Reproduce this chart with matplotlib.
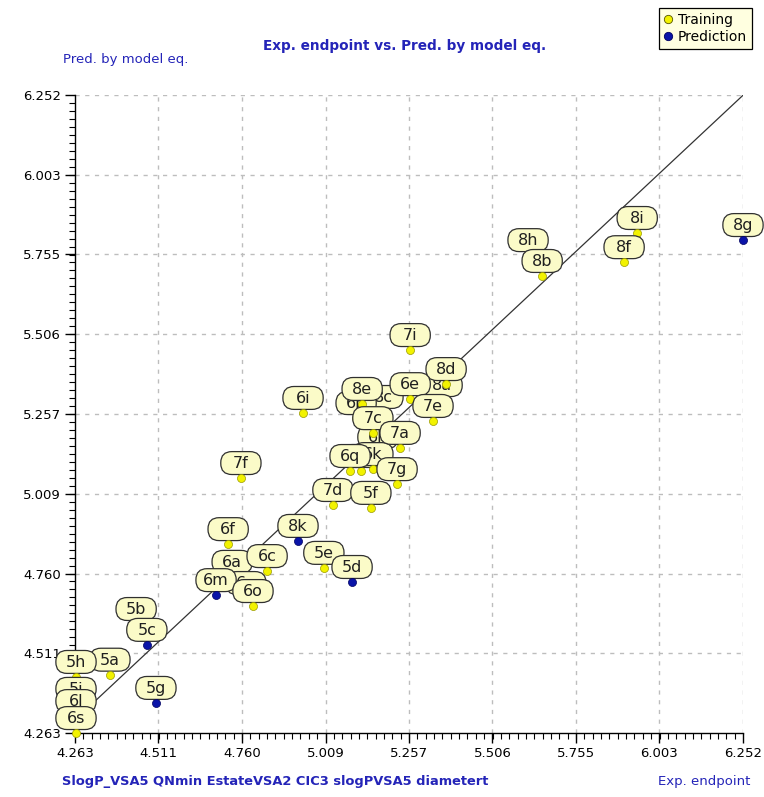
import numpy as np
import matplotlib.pyplot as plt
from matplotlib.offsetbox import DrawingArea, AnnotationBbox
from matplotlib.patches import FancyBboxPatch
from matplotlib.text import Text
from matplotlib.lines import Line2D

# compounds in drawing order (later ones sit on top)
labels = ['8c', '6p', '6h', '6r', '6k', '8e', '7c', '7a', '6q', '7g', '8a', '8d', '6e', '7e',
          '7d', '5f', '7i', '6i', '7f', '6f', '8k', '6a', '6n', '6m', '6o', '6c', '5e', '5d',
          '5b', '5c', '5a', '5h', '5i', '6l', '6s', '5g', '8h', '8b', '8i', '8f', '8g']
exp_vals = [5.180, 5.100, 5.165, 5.115, 5.150, 5.118, 5.150, 5.231, 5.082, 5.222, 5.356, 5.368, 5.261, 5.329,
            5.031, 5.144, 5.261, 4.942, 4.757, 4.719, 4.927, 4.731, 4.772, 4.683, 4.793, 4.835, 5.004, 5.088,
            4.445, 4.477, 4.367, 4.266, 4.266, 4.266, 4.266, 4.504, 5.612, 5.654, 5.937, 5.898, 6.252]
pred_vals = [5.264, 5.245, 5.139, 5.080, 5.086, 5.289, 5.198, 5.152, 5.080, 5.039, 5.301, 5.351, 5.304, 5.236,
             4.974, 4.965, 5.457, 5.261, 5.058, 4.852, 4.862, 4.750, 4.684, 4.693, 4.659, 4.768, 4.778, 4.734,
             4.603, 4.538, 4.445, 4.438, 4.354, 4.316, 4.263, 4.357, 5.753, 5.688, 5.822, 5.731, 5.800]
sets = ['T', 'T', 'T', 'T', 'T', 'T', 'T', 'T', 'T', 'T', 'T', 'T', 'T', 'T',
        'T', 'T', 'T', 'T', 'T', 'T', 'P', 'T', 'T', 'P', 'T', 'T', 'T', 'P',
        'T', 'P', 'T', 'T', 'T', 'T', 'T', 'P', 'T', 'T', 'T', 'T', 'P']

tick_labels = ['4.263', '4.511', '4.760', '5.009', '5.257', '5.506', '5.755', '6.003', '6.252']

# fitted line  pred = fit_a + fit_b * exp
fit_a = 0.1305
fit_b = 0.979

blue_txt = '#2424b8'
yellow = '#f2f200'
blue = '#0a14a8'
bubble_fc = '#fbfbc8'

fig = plt.figure(figsize=(7.64, 7.97), dpi=100)
ax = fig.add_axes([75 / 764, 64 / 797, 668 / 764, 638 / 797])

ticks = [float(t) for t in tick_labels]
lo, hi = ticks[0], ticks[-1]
ax.set_xlim(lo, hi)
ax.set_ylim(lo, hi)
ax.set_xticks(ticks)
ax.set_xticklabels(tick_labels)
ax.set_yticks(ticks)
ax.set_yticklabels(tick_labels)
minor = np.linspace(lo, hi, 81)
ax.set_xticks(minor, minor=True)
ax.set_yticks(minor, minor=True)
ax.tick_params(which='major', direction='out', length=7, width=1, labelsize=9.5, pad=3)
ax.tick_params(which='minor', direction='out', length=4, width=0.8)
for s in ['top', 'right']:
    ax.spines[s].set_visible(False)
for s in ['left', 'bottom']:
    ax.spines[s].set_linewidth(1)

# dashed grid at the major ticks
for t in ticks[1:]:
    ax.axvline(t, color='#bdbdbd', lw=1, ls=(0, (3, 4)), zorder=0)
    ax.axhline(t, color='#bdbdbd', lw=1, ls=(0, (3, 4)), zorder=0)

xs = np.array([lo, hi])
ax.plot(xs, fit_a + fit_b * xs, color='#333333', lw=0.9, zorder=1)

bw, bh = 30, 17.5  # bubble size in points
z = 3
for lab, x, y, s in zip(labels, exp_vals, pred_vals, sets):
    da = DrawingArea(bw, bh, 0, 0)
    da.add_artist(FancyBboxPatch((0.5, 0.5), bw - 1, bh - 1,
                                 boxstyle='round,pad=0,rounding_size=8',
                                 fc=bubble_fc, ec='#303030', lw=0.9))
    da.add_artist(Text(bw / 2, bh / 2 - 0.5, lab, ha='center', va='center',
                       fontsize=11.5, color='#202020'))
    ab = AnnotationBbox(da, (x, y), xybox=(0, 2), boxcoords='offset points',
                        box_alignment=(0.5, 0), frameon=False, pad=0,
                        annotation_clip=False, zorder=z)
    ax.add_artist(ab)
    fc = yellow if s == 'T' else blue
    ec = '#9a9a00' if s == 'T' else '#000060'
    ax.plot([x], [y], 'o', ms=5.8, mfc=fc, mec=ec, mew=0.5, zorder=z + 0.5, clip_on=False)
    z += 1

fig.text(405 / 764, 1 - 46 / 797, 'Exp. endpoint vs. Pred. by model eq.', ha='center', va='center',
         fontsize=9.8, fontweight='bold', color=blue_txt)
fig.text(63 / 764, 1 - 60 / 797, 'Pred. by model eq.', ha='left', va='center',
         fontsize=9.5, color=blue_txt)
fig.text(62 / 764, 1 - 782 / 797, 'SlogP_VSA5 QNmin EstateVSA2 CIC3 slogPVSA5 diametert', ha='left', va='center',
         fontsize=9.4, fontweight='bold', color=blue_txt)
fig.text(750 / 764, 1 - 782 / 797, 'Exp. endpoint', ha='right', va='center',
         fontsize=9.5, color=blue_txt)

handles = [Line2D([], [], ls='none', marker='o', ms=6, mfc=yellow, mec='#555500', mew=0.6),
           Line2D([], [], ls='none', marker='o', ms=6, mfc=blue, mec='#000060', mew=0.6)]
leg = fig.legend(handles, ['Training', 'Prediction'], loc='upper right',
                 bbox_to_anchor=(752 / 764, 1 - 8 / 797), fontsize=10, frameon=True,
                 fancybox=False, framealpha=1, facecolor='#ffffe0', edgecolor='black',
                 handlelength=0.6, handletextpad=0.4, borderpad=0.35, labelspacing=0.2,
                 borderaxespad=0)
leg.get_frame().set_linewidth(0.9)

fig.savefig('out.png', dpi=100)
